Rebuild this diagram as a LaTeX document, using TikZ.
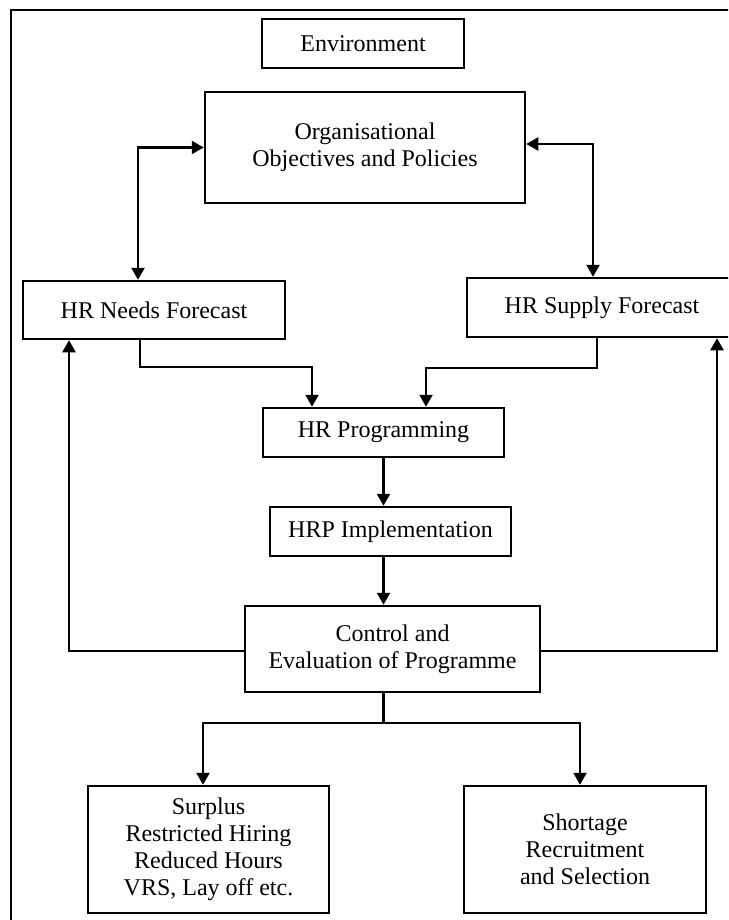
\documentclass[tikz,border=0pt]{standalone}
\usepackage{fontspec}
\setmainfont{Liberation Serif}
\usetikzlibrary{arrows.meta}

\begin{document}
\begin{tikzpicture}[x=1pt, y=-1pt,
  box/.style={draw, line width=2.5pt, align=center, inner sep=0pt, font=\fontsize{24}{27}\selectfont},
  conn/.style={line width=2.3pt},
  arr/.style={conn, -{Triangle[length=12pt, width=13pt]}},
  arrboth/.style={conn, {Triangle[length=12pt, width=13pt]}-{Triangle[length=12pt, width=13pt]}}]
\useasboundingbox (0,0) rectangle (728,920);
\clip (0,0) rectangle (728,920);
% frame round the figure
\draw[conn] (11,10) rectangle (780,980);
% boxes
\node[box, minimum width=202pt, minimum height=49pt] (env) at (363,43.5) {Environment};
\node[box, minimum width=320pt, minimum height=111pt] (org) at (365,147.5) {Organisational\\Objectives and Policies};
\node[box, minimum width=262pt, minimum height=58pt] (needs) at (154,310) {HR Needs Forecast};
\node[box, minimum width=270pt, minimum height=59pt] (supply) at (602,307.5) {HR Supply Forecast};
\node[box, minimum width=241pt, minimum height=49pt] (prog) at (383.5,432.5) {HR Programming};
\node[box, minimum width=241pt, minimum height=49pt] (impl) at (390.5,531.5) {HRP Implementation};
\node[box, minimum width=295pt, minimum height=86pt] (ctrl) at (392.5,649) {Control and\\Evaluation of Programme};
\node[box, minimum width=241pt, minimum height=127pt] (surplus) at (208.5,849.5) {Surplus\\Restricted Hiring\\Reduced Hours\\VRS, Lay off etc.};
\node[box, minimum width=242pt, minimum height=127pt] (shortage) at (585,849.5) {Shortage\\Recruitment\\and Selection};
% objectives <-> forecasts
\draw[arrboth] (org.west) -| ([xshift=-16pt]needs.north);
\draw[arrboth] ([yshift=3.5pt]org.east) -| ([xshift=-9pt]supply.north);
% forecasts -> programming
\draw[arr] ([xshift=-14pt]needs.south) -- ++(0,27) -| ([xshift=-71.5pt]prog.north);
\draw[arr] ([xshift=-5pt]supply.south) -- ++(0,30) -| ([xshift=42.5pt]prog.north);
% main chain
\draw[arr] (prog.south) -- (prog.south |- impl.north);
\draw[arr] (prog.south |- impl.south) -- (prog.south |- ctrl.north);
% feedback
\draw[arr] ([yshift=-2pt]ctrl.west) -| ([xshift=-85pt]needs.south);
\draw[arr] ([yshift=-2pt]ctrl.east) -| ([xshift=115pt]supply.south);
% outcomes
\draw[conn] (prog.south |- ctrl.south) -- ++(0,30) coordinate (split);
\draw[arr] (split) -| ([xshift=-5.5pt]surplus.north);
\draw[arr] (split) -| ([xshift=-5pt]shortage.north);
\end{tikzpicture}
\end{document}
